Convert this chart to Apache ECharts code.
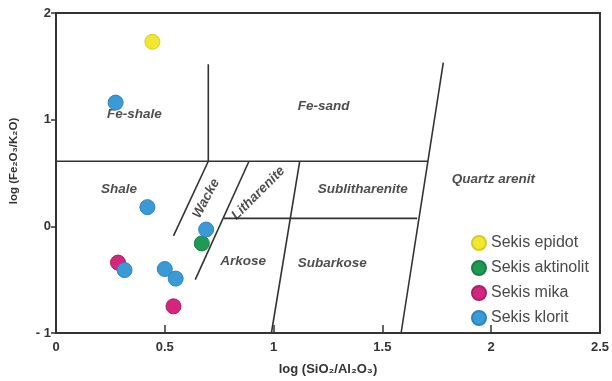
<!DOCTYPE html>
<html>
<head>
<meta charset="utf-8">
<script src="https://cdn.jsdelivr.net/npm/echarts@6/dist/echarts.min.js"></script>
<style>html,body{margin:0;padding:0;background:#fff}#c{width:612px;height:381px}</style>
</head>
<body>
<div id="c"></div>
<script>
// Sample data (log SiO2/Al2O3, log Fe2O3/K2O)
const epidot = [[0.443, 1.73]];
const aktinolit = [[0.67, -0.16]];
const mika = [[0.285, -0.34], [0.54, -0.75]];
const klorit = [[0.274, 1.16], [0.42, 0.18], [0.69, -0.03], [0.315, -0.41], [0.50, -0.40], [0.55, -0.49]];

// Classification boundaries (Herron 1988)
const boundaries = [
  [[0, 0.61], [1.71, 0.61]],
  [[0.70, 0.61], [0.70, 1.52]],
  [[1.586, -1], [1.78, 1.535]],
  [[0.99, -1], [1.12, 0.61]],
  [[0.77, 0.075], [1.66, 0.075]],
  [[0.54, -0.09], [0.70, 0.61]],
  [[0.64, -0.50], [0.887, 0.61]]
];

// Field names
const fieldNames = ['Fe-shale', 'Fe-sand', 'Shale', 'Wacke', 'Litharenite', 'Sublitharenite', 'Quartz arenit', 'Arkose', 'Subarkose'];
const fieldX = [0.36, 1.23, 0.29, 0.69, 0.93, 1.41, 2.01, 0.86, 1.27];
const fieldY = [1.05, 1.13, 0.35, 0.26, 0.31, 0.35, 0.44, -0.33, -0.35];
const fieldRot = [0, 0, 0, 62, 45, 0, 0, 0, 0];

const seriesNames = ['Sekis epidot', 'Sekis aktinolit', 'Sekis mika', 'Sekis klorit'];
const xTicks = ['0', '0.5', '1', '1.5', '2', '2.5'];
const yTicks = ['- 1', '0', '1', '2'];

const colors = ['#f0e830', '#1e9a52', '#d4267a', '#3b9ad6'];
const borders = ['#d8cc20', '#17804a', '#b01c63', '#2b84c0'];

const chart = echarts.init(document.getElementById('c'));
const font = 'Liberation Sans, Arial, sans-serif';

const series = [];
boundaries.forEach(seg => {
  series.push({type: 'line', data: seg, symbol: 'none', silent: true,
    lineStyle: {color: '#333', width: 1.6}, z: 1});
});
series.push({
  type: 'scatter', symbolSize: 0, silent: true, z: 2,
  data: fieldNames.map((n, i) => ({
    value: [fieldX[i], fieldY[i]], name: n,
    label: {rotate: fieldRot[i]}
  })),
  label: {show: true, position: 'inside', formatter: p => p.name,
    fontFamily: font, fontSize: 13.5, fontWeight: 'bold', fontStyle: 'italic', color: '#222'}
});
[epidot, aktinolit, mika, klorit].forEach((d, i) => {
  series.push({type: 'scatter', name: seriesNames[i], data: d, symbolSize: 15, z: 5,
    itemStyle: {color: colors[i], borderColor: borders[i], borderWidth: 1, opacity: 1}});
});

chart.setOption({
  animation: false,
  backgroundColor: '#fff',
  grid: {left: 56, top: 13, width: 546, height: 320, show: true, borderColor: '#333', borderWidth: 2},
  legend: {
    data: seriesNames, orient: 'vertical', left: 466, top: 230, itemGap: 9,
    icon: 'circle', itemWidth: 14, itemHeight: 14,
    textStyle: {fontFamily: font, fontSize: 16, color: '#4a4a4a'}
  },
  xAxis: {
    type: 'value', min: 0, max: 2.5, interval: 0.5,
    name: 'log (SiO₂/Al₂O₃)', nameLocation: 'middle', nameGap: 30,
    nameTextStyle: {fontFamily: font, fontSize: 13, fontWeight: 'bold', color: '#333'},
    axisLine: {show: true, onZero: false, lineStyle: {color: '#333', width: 2}},
    axisTick: {show: true, inside: true, length: 8, lineStyle: {color: '#333', width: 1.5}},
    axisLabel: {fontFamily: font, fontSize: 13, fontWeight: 'bold', color: '#333', margin: 8,
      formatter: (v) => xTicks[Math.round(v / 0.5)]},
    splitLine: {show: false}
  },
  yAxis: {
    type: 'value', min: -1, max: 2, interval: 1,
    name: 'log (Fe₂O₃/K₂O)', nameLocation: 'middle', nameGap: 36,
    nameTextStyle: {fontFamily: font, fontSize: 11.5, fontWeight: 'bold', color: '#333', padding: [0, 0, 0, 24]},
    axisLine: {show: true, onZero: false, lineStyle: {color: '#333', width: 2}},
    axisTick: {show: true, length: 5, lineStyle: {color: '#333', width: 1.5}},
    axisLabel: {fontFamily: font, fontSize: 13, fontWeight: 'bold', color: '#333', margin: 5,
      formatter: (v) => yTicks[Math.round(v + 1)]},
    splitLine: {show: false}
  },
  series: series
});
</script>
</body>
</html>
